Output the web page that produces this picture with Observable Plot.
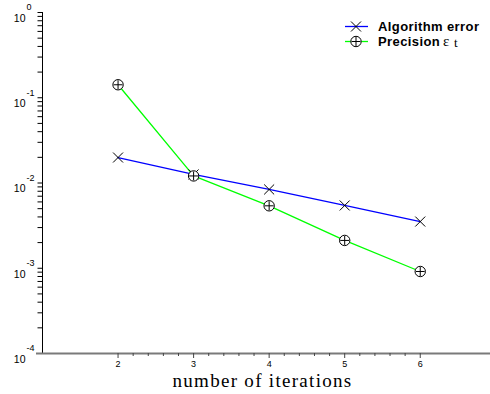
<!DOCTYPE html>
<html>
<head>
<meta charset="utf-8">
<script src="https://cdn.jsdelivr.net/npm/d3@7"></script>
<script src="https://cdn.jsdelivr.net/npm/@observablehq/plot@0.6"></script>
<style>
  body { margin: 0; background: white; }
  #wrap { position: relative; width: 490px; height: 394px; overflow: hidden; }
  #legend { position: absolute; left: 0; top: 0; pointer-events: none; }
</style>
</head>
<body>
<div id="wrap"></div>
<script>
// ---- data ----
const iterations = [2, 3, 4, 5, 6];
const algorithmError = [0.0199, 0.0126, 0.0084, 0.00545, 0.00353];
const precision = [0.142, 0.0121, 0.0054, 0.00212, 0.000916];
const xTickValues = [2, 3, 4, 5, 6];
const xMinorTicks = [2.2, 2.4, 2.6, 2.8, 3.2, 3.4, 3.6, 3.8, 4.2, 4.4, 4.6, 4.8, 5.2, 5.4, 5.6, 5.8];
const yDecadeExponents = [-4, -3, -2, -1, 0];
const seriesNames = ["Algorithm error", "Precision"];
const seriesColors = ["#0000ff", "#00ff00"];
const xLabel = "number of iterations";

const errRows = iterations.map((x, i) => ({x, y: algorithmError[i]}));
const precRows = iterations.map((x, i) => ({x, y: precision[i]}));
const yAllTicks = [];
for (const e of yDecadeExponents) {
  if (e === 0) { yAllTicks.push(1); continue; }
  for (let m = 1; m <= 9; m++) yAllTicks.push(m * 10 ** e);
}

const W = 490, H = 394, ML = 42, MR = 0, MT = 12, MB = 41;

const chart = Plot.plot({
  width: W,
  height: H,
  marginLeft: ML,
  marginRight: MR,
  marginTop: MT,
  marginBottom: MB,
  style: {fontFamily: "'Liberation Sans', Arial, sans-serif", background: "white", overflow: "visible"},
  x: {domain: [1, 6.93], axis: null, label: null},
  y: {type: "log", domain: [1e-4, 1], axis: null, label: null},
  marks: [
    // y axis ticks (pointing left, outside the frame)
    Plot.axisY({ticks: yAllTicks, tickSize: 4.5, tickFormat: null, text: null, stroke: "black", strokeWidth: 1, strokeOpacity: 1, label: null}),
    Plot.ruleX([1], {stroke: "black", strokeWidth: 1}),
    // x axis
    Plot.ruleY([1e-4], {stroke: "#7a7a7a", strokeWidth: 2, insetLeft: -6}),
    Plot.axisX({ticks: xMinorTicks, tickSize: 3, text: null, stroke: "#444", strokeWidth: 1, strokeOpacity: 1, label: null}),
    Plot.axisX({ticks: xTickValues, tickSize: 5, tickPadding: 2, tickFormat: d => String(d), stroke: "#444", strokeWidth: 1, strokeOpacity: 1, fill: "black", fontSize: 9, label: null}),
    // y decade labels "10" + exponent
    Plot.text(yDecadeExponents, {y: d => 10 ** d, text: () => "10", frameAnchor: "left", dx: -17, dy: 6, textAnchor: "end", fontSize: 10.5, fill: "black"}),
    Plot.text(yDecadeExponents, {y: d => 10 ** d, text: d => String(d), frameAnchor: "left", dx: -16, dy: -5, textAnchor: "start", fontSize: 9, fill: "black"}),
    // x axis title
    Plot.text([xLabel], {frameAnchor: "bottom", dx: -4, dy: 33, lineAnchor: "bottom", fontFamily: "'Liberation Serif', 'Times New Roman', serif", fontSize: 19, fill: "black"}),
    // series lines
    Plot.line(errRows, {x: "x", y: "y", stroke: seriesColors[0], strokeWidth: 1.3}),
    Plot.line(precRows, {x: "x", y: "y", stroke: seriesColors[1], strokeWidth: 1.3}),
    // markers
    Plot.dot(errRows, {x: "x", y: "y", symbol: "times", r: 4.6, stroke: "black", strokeWidth: 1}),
    Plot.dot(precRows, {x: "x", y: "y", r: 5.2, fill: "white", stroke: "black", strokeWidth: 1}),
    Plot.dot(precRows, {x: "x", y: "y", symbol: "plus", r: 3.0, stroke: "black", strokeWidth: 1})
  ]
});

// letter-spacing on the axis title
d3.select(chart).selectAll("text").filter(function() { return this.textContent === xLabel; })
  .attr("letter-spacing", "1.3px");

const wrap = document.getElementById("wrap");
wrap.appendChild(chart);

// legend overlay
const leg = d3.select(wrap).append("svg").attr("id", "legend").attr("width", 490).attr("height", 60);
const rowsY = [26.5, 41.5];
seriesNames.forEach((name, i) => {
  const g = leg.append("g").attr("transform", `translate(0,${rowsY[i]})`);
  g.append("line").attr("x1", 345).attr("x2", 368).attr("y1", 0).attr("y2", 0).attr("stroke", seriesColors[i]).attr("stroke-width", 1.3);
  if (i === 0) {
    g.append("path").attr("d", "M351,-5L361,5M351,5L361,-5").attr("stroke", "black").attr("fill", "none");
  } else {
    g.append("circle").attr("cx", 356).attr("cy", 0).attr("r", 5.2).attr("fill", "white").attr("stroke", "black");
    g.append("path").attr("d", "M351.5,0H360.5M356,-4.5V4.5").attr("stroke", "black").attr("fill", "none");
  }
  g.append("text").attr("x", 378).attr("y", 4.5)
    .attr("font-family", "'Liberation Sans', Arial, sans-serif").attr("font-size", 13).attr("font-weight", "bold")
    .attr("letter-spacing", "0.4px").attr("fill", "black").text(name);
  if (i === 1) {
    g.append("text").attr("x", 443).attr("y", 4.5).attr("font-family", "'Liberation Serif', serif").attr("font-size", 15).attr("fill", "black").text("ε");
    g.append("text").attr("x", 454).attr("y", 5.5).attr("font-family", "'Liberation Serif', serif").attr("font-size", 13).attr("fill", "black").text("t");
  }
});
</script>
</body>
</html>
